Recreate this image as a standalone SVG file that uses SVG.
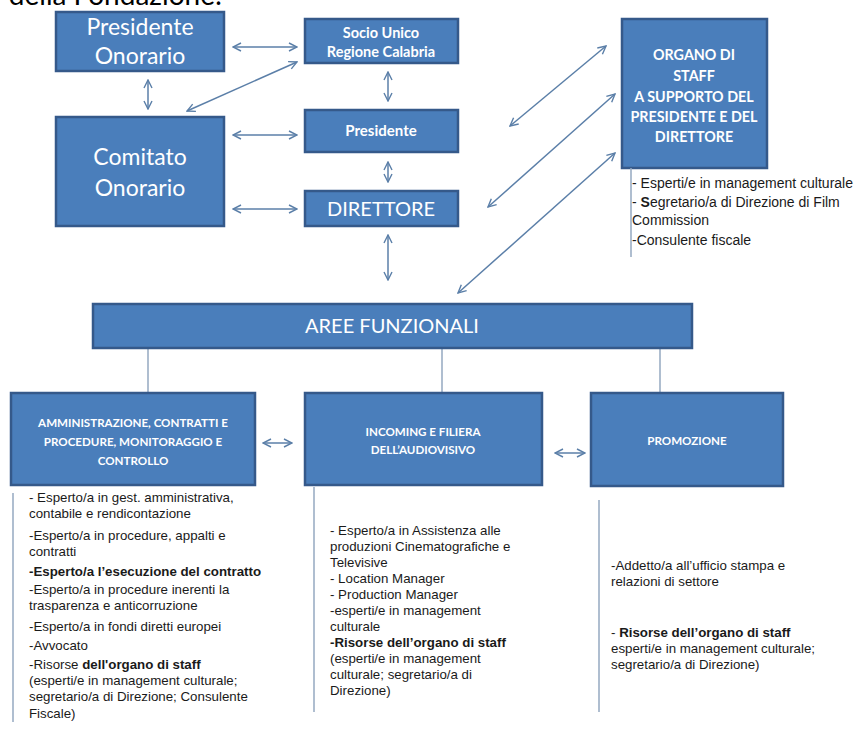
<svg xmlns="http://www.w3.org/2000/svg" width="858" height="729" viewBox="0 0 858 729">
<style>
.box{fill:#4a7ebb;stroke:#35598a;stroke-width:2.5}
.bt{fill:#ffffff;font-family:Lato,"Liberation Sans",sans-serif;text-anchor:middle}
.b{font-weight:bold}
.arr{fill:none;stroke:#5b7fa8;stroke-width:1.5;marker-start:url(#ah);marker-end:url(#ah)}
.ln{fill:none;stroke:#94a8c0;stroke-width:1.5}
.lt{fill:#1a1a1a;font-family:"Liberation Sans",Arial,sans-serif;font-size:13.3px}
.st{fill:#1a1a1a;font-family:"Liberation Sans",Arial,sans-serif;font-size:14px}
</style>
<defs>
<marker id="ah" viewBox="0 0 10 10" refX="9" refY="5" markerWidth="10" markerHeight="10" orient="auto-start-reverse" markerUnits="userSpaceOnUse">
<path d="M1,1 L9,5 L1,9" fill="none" stroke="#5b7fa8" stroke-width="1.4"/>
</marker>
</defs>
<rect width="858" height="729" fill="#ffffff"/>
<text x="222" y="5" font-family="Lato,'Liberation Sans',sans-serif" font-size="28" text-anchor="end" fill="#000">della Fondazione:</text>

<g id="connectors">
<line class="arr" x1="233" y1="47" x2="297" y2="47"/>
<line class="arr" x1="187" y1="111" x2="297" y2="62"/>
<line class="arr" x1="148" y1="80" x2="148" y2="109"/>
<line class="arr" x1="233" y1="135" x2="297" y2="135"/>
<line class="arr" x1="233" y1="209" x2="297" y2="209"/>
<line class="arr" x1="388" y1="72" x2="388" y2="101"/>
<line class="arr" x1="388" y1="162" x2="388" y2="182"/>
<line class="arr" x1="388" y1="235" x2="388" y2="280"/>
<line class="arr" x1="510" y1="126" x2="606" y2="46"/>
<line class="arr" x1="488" y1="207" x2="615" y2="94"/>
<line class="arr" x1="458" y1="293" x2="615" y2="153"/>
<line class="arr" x1="263" y1="443" x2="292" y2="443"/>
<line class="arr" x1="555" y1="453" x2="585" y2="453"/>
<line class="ln" x1="148" y1="348" x2="148" y2="393"/>
<line class="ln" x1="442" y1="348" x2="442" y2="393"/>
<line class="ln" x1="660" y1="348" x2="660" y2="393"/>
</g>

<g id="presidente-onorario">
<rect class="box" x="56" y="12" width="168" height="59"/>
<text class="bt" x="140" y="35" font-size="23">Presidente</text>
<text class="bt" x="140" y="64" font-size="23">Onorario</text>
</g>
<g id="comitato-onorario">
<rect class="box" x="56" y="117" width="168" height="109"/>
<text class="bt" x="140" y="165" font-size="23">Comitato</text>
<text class="bt" x="140" y="196" font-size="23">Onorario</text>
</g>
<g id="socio-unico">
<rect class="box" x="305" y="19" width="153" height="44"/>
<text class="bt b" x="381" y="38" font-size="14.5">Socio Unico</text>
<text class="bt b" x="381" y="57" font-size="14.5">Regione Calabria</text>
</g>
<g id="presidente">
<rect class="box" x="305" y="110" width="153" height="42"/>
<text class="bt b" x="381" y="136" font-size="15">Presidente</text>
</g>
<g id="direttore">
<rect class="box" x="305" y="191" width="153" height="35"/>
<text class="bt" x="381" y="216" font-size="20">DIRETTORE</text>
</g>
<g id="organo-staff">
<rect class="box" x="622" y="19" width="145" height="149"/>
<text class="bt b" x="694" y="60" font-size="14.3">ORGANO DI</text>
<text class="bt b" x="694" y="81" font-size="14.3">STAFF</text>
<text class="bt b" x="694" y="102" font-size="14.3">A SUPPORTO DEL</text>
<text class="bt b" x="694" y="122" font-size="14.3">PRESIDENTE E DEL</text>
<text class="bt b" x="694" y="142" font-size="14.3">DIRETTORE</text>
<line class="ln" x1="631" y1="168" x2="631" y2="257" stroke="#8a9bb0"/>
<text class="st" x="632" y="188">- Esperti/e in management culturale</text>
<text class="st" x="632" y="207">- <tspan font-weight="bold">S</tspan>egretario/a di Direzione di Film</text>
<text class="st" x="632" y="225">Commission</text>
<text class="st" x="632" y="245">-Consulente fiscale</text>
</g>
<g id="aree-funzionali">
<rect class="box" x="93" y="304" width="599" height="44"/>
<text class="bt" x="392" y="333" font-size="20">AREE FUNZIONALI</text>
</g>
<g id="amministrazione">
<rect class="box" x="11" y="393" width="244" height="92"/>
<text class="bt b" x="133" y="427" font-size="11.6">AMMINISTRAZIONE, CONTRATTI E</text>
<text class="bt b" x="133" y="446" font-size="11.6">PROCEDURE, MONITORAGGIO E</text>
<text class="bt b" x="133" y="465" font-size="11.6">CONTROLLO</text>
<line class="ln" x1="13" y1="493" x2="13" y2="722"/>
<text class="lt" x="29" y="502">- Esperto/a in gest. amministrativa,</text>
<text class="lt" x="29" y="518">contabile e rendicontazione</text>
<text class="lt" x="29" y="540">-Esperto/a in procedure, appalti e</text>
<text class="lt" x="29" y="556">contratti</text>
<text class="lt b" x="29" y="576">-Esperto/a l’esecuzione del contratto</text>
<text class="lt" x="29" y="594">-Esperto/a in procedure inerenti la</text>
<text class="lt" x="29" y="610">trasparenza e anticorruzione</text>
<text class="lt" x="29" y="631">-Esperto/a in fondi diretti europei</text>
<text class="lt" x="29" y="650">-Avvocato</text>
<text class="lt" x="29" y="669">-Risorse <tspan font-weight="bold">dell'organo di staff</tspan></text>
<text class="lt" x="29" y="685">(esperti/e in management culturale;</text>
<text class="lt" x="29" y="701">segretario/a di Direzione; Consulente</text>
<text class="lt" x="29" y="718">Fiscale)</text>
</g>
<g id="incoming">
<rect class="box" x="305" y="393" width="237" height="92"/>
<text class="bt b" x="423" y="436" font-size="11.6">INCOMING E FILIERA</text>
<text class="bt b" x="423" y="454" font-size="11.6">DELL’AUDIOVISIVO</text>
<line class="ln" x1="314" y1="487" x2="314" y2="712"/>
<text class="lt" x="330" y="535">- Esperto/a in Assistenza alle</text>
<text class="lt" x="330" y="551">produzioni Cinematografiche e</text>
<text class="lt" x="330" y="567">Televisive</text>
<text class="lt" x="330" y="583">- Location Manager</text>
<text class="lt" x="330" y="599">- Production Manager</text>
<text class="lt" x="330" y="615">-esperti/e in management</text>
<text class="lt" x="330" y="631">culturale</text>
<text class="lt b" x="330" y="647">-Risorse dell’organo di staff</text>
<text class="lt" x="330" y="663">(esperti/e in management</text>
<text class="lt" x="330" y="679">culturale; segretario/a di</text>
<text class="lt" x="330" y="695">Direzione)</text>
</g>
<g id="promozione">
<rect class="box" x="591" y="393" width="192" height="93"/>
<text class="bt b" x="687" y="445" font-size="11.6">PROMOZIONE</text>
<line class="ln" x1="599" y1="500" x2="599" y2="712"/>
<text class="lt" x="611" y="570">-Addetto/a all’ufficio stampa e</text>
<text class="lt" x="611" y="586">relazioni di settore</text>
<text class="lt" x="611" y="637">- <tspan font-weight="bold">Risorse dell’organo di staff</tspan></text>
<text class="lt" x="611" y="653">esperti/e in management culturale;</text>
<text class="lt" x="611" y="669">segretario/a di Direzione)</text>
</g>
</svg>
